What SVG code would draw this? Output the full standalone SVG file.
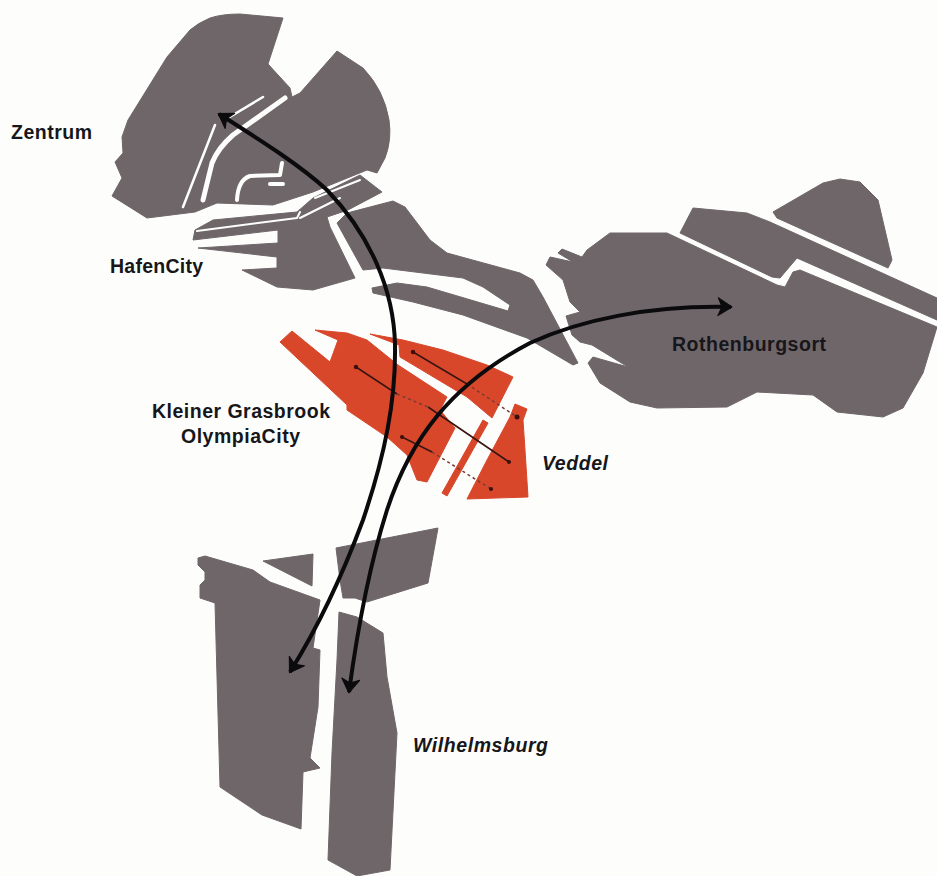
<svg xmlns="http://www.w3.org/2000/svg" width="937" height="876" viewBox="0 0 937 876">
<style>
.g{fill:#6f666a;stroke:#6f666a;stroke-width:1;stroke-linejoin:round}
.r{fill:#d9472b;stroke:#d9472b;stroke-width:1;stroke-linejoin:round}
.w{fill:none;stroke:#fdfefc;stroke-linecap:round;stroke-linejoin:round}
.t{font-family:"Liberation Sans",Arial,sans-serif;font-size:19.5px;font-weight:bold;fill:#17161a}
.i{font-style:italic}
.a{fill:none;stroke:#0b0a0c;stroke-width:4;marker-start:url(#h);marker-end:url(#h)}
.k{fill:none;stroke:#3a1512;stroke-width:1.6}
.d{fill:none;stroke:#7a3a36;stroke-width:1.5;stroke-dasharray:3 3}
.o{fill:#3a0f0c}
</style>
<defs>
<marker id="h" viewBox="-16 -11 18 22" refX="0" refY="0" markerWidth="18" markerHeight="22" markerUnits="userSpaceOnUse" orient="auto-start-reverse">
<path d="M-13 -9 L1 0 L-13 9 L-9 0 Z" fill="#0b0a0c" stroke="#0b0a0c" stroke-width="1" stroke-linejoin="round"/>
</marker>
</defs>
<rect width="937" height="876" fill="#fdfefc"/>
<g id="zentrum">
<path class="g" d="M283 18 L240 14 Q222 14 210 18 Q198 23 190 30 L167 57 L128 120 L122 137 L123 153 L115 162 L122 178 L112 196 L147 218 L195 212 L217 203 L273 205 L313 192 L367 170 L377 173 L385 158 Q392 140 389 120 Q384 90 363 68 L337 51 L300 93 L292 97 L290 88 L268 64 Z"/>
<path class="w" stroke-width="2.5" d="M263 97 L228 118 M215 125 L183 207"/>
<path class="w" stroke-width="5" d="M285 98 L233 135 Q218 148 212 163 L203 200"/>
<path class="w" stroke-width="4" d="M237 200 Q238 180 250 176 L280 175 L282 163 M270 184 L283 184"/>
<text class="t" x="11" y="139" textLength="81" lengthAdjust="spacing">Zentrum</text>
</g>
<g id="hafencity">
<path class="g" d="M195 230 L213 220 L297 212 L313 198 L360 175 L382 192 L348 210 L327 217 L330 227 L355 278 L313 290 L277 287 L242 270 L277 268 L277 257 L198 248 L278 243 L278 230 L193 240 Z"/>
<path class="w" stroke-width="2" d="M197 231 L297 218 L300 212 M300 218 L340 198 M315 198 L360 180"/>
<text class="t" x="110" y="273" textLength="93" lengthAdjust="spacing">HafenCity</text>
</g>
<g id="center">
<path class="g" d="M337 223 L347 213 L393 201 L405 207 L430 240 L447 253 L520 273 L533 280 L543 297 L578 363 L573 365 L527 338 L463 315 L413 302 L373 293 L372 288 L397 283 L427 287 L508 311 L510 305 L483 287 L463 278 L383 268 L363 270 Z"/>
</g>
<g id="rothenburgsort">
<path class="g" d="M667 233 L610 233 L587 250 L582 257 L562 249 L558 253 L573 262 L550 257 L546 265 L563 280 L570 302 L580 312 L566 316 L572 335 L580 342 L592 345 L628 367 L593 357 L588 363 L600 383 L630 402 L657 408 L727 407 L757 392 L813 395 L837 412 L883 417 L903 408 L923 373 L937 327 L800 270 L793 272 L785 287 L777 285 Z"/>
<path class="g" d="M693 208 L747 213 L770 222 L937 298 L937 320 L797 258 L780 278 L772 277 L680 233 Z"/>
<path class="g" d="M773 212 L823 183 L840 179 L860 182 L878 200 L892 260 L888 268 L777 218 Z"/>
<text class="t" x="672" y="351" textLength="154" lengthAdjust="spacing">Rothenburgsort</text>
</g>
<g id="grasbrook">
<path class="r" d="M292 331 L280 342 L347 405 L347 410 L387 437 L407 455 L417 480 L427 482 L455 428 L440 410 L447 397 L398 365 L367 340 L347 333 L315 330 L338 340 L330 362 Z"/>
<path class="r" d="M370 334 L403 340 L443 350 L487 365 L513 377 L492 418 L467 397 L400 357 L399 345 Z"/>
<path class="r" d="M483 420 L488 423 L447 496 L442 493 Z"/>
<path class="r" d="M515 404 L527 409 L523 420 L525 450 L528 497 L467 499 L487 460 L510 417 Z"/>
<path class="k" d="M413 352 L467 384 M356 367 L397 394 M428 407 L509 462 M402 437 L432 452"/>
<path class="d" d="M467 384 L517 417 M397 394 L428 407 M432 452 L491 489"/>
<circle class="o" cx="413" cy="352" r="2.2"/><circle class="o" cx="356" cy="367" r="2.2"/><circle class="o" cx="517" cy="417" r="2.5"/><circle class="o" cx="509" cy="462" r="2"/><circle class="o" cx="402" cy="437" r="2"/><circle class="o" cx="491" cy="489" r="2"/>
<text class="t" x="152" y="418" textLength="178" lengthAdjust="spacing">Kleiner Grasbrook</text>
<text class="t" x="181" y="443" textLength="119" lengthAdjust="spacing">OlympiaCity</text>
</g>
<g id="veddel"><text class="t i" x="542" y="470" textLength="66" lengthAdjust="spacing">Veddel</text></g>
<g id="wilhelmsburg">
<path class="g" d="M198 558 L205 556 L253 570 L270 582 L320 600 L313 648 L320 650 L318 707 L310 758 L320 768 L303 772 L301 829 L262 815 L220 787 L215 603 L200 598 L200 585 L205 580 L205 572 L198 565 Z"/>
<path class="g" d="M263 561 L313 554 L312 586 Z"/>
<path class="g" d="M336 548 L438 528 L428 583 L367 602 L355 598 L343 598 L340 580 Z"/>
<path class="g" d="M339 612 L357 617 L383 633 L387 677 L397 733 L390 870 L357 876 L328 860 L332 753 L337 660 Z"/>
<text class="t i" x="413" y="752" textLength="135" lengthAdjust="spacing">Wilhelmsburg</text>
</g>
<g id="connectors">
<path class="a" d="M290 672 C310 640 337 590 363 520 C385 455 396 400 395 345 C394 290 370 235 327 190 C300 165 260 140 219 114"/>
<path class="a" d="M349 692 C356 640 368 570 387 510 C410 440 450 385 530 343 C580 320 650 305 731 307"/>
</g>
</svg>
